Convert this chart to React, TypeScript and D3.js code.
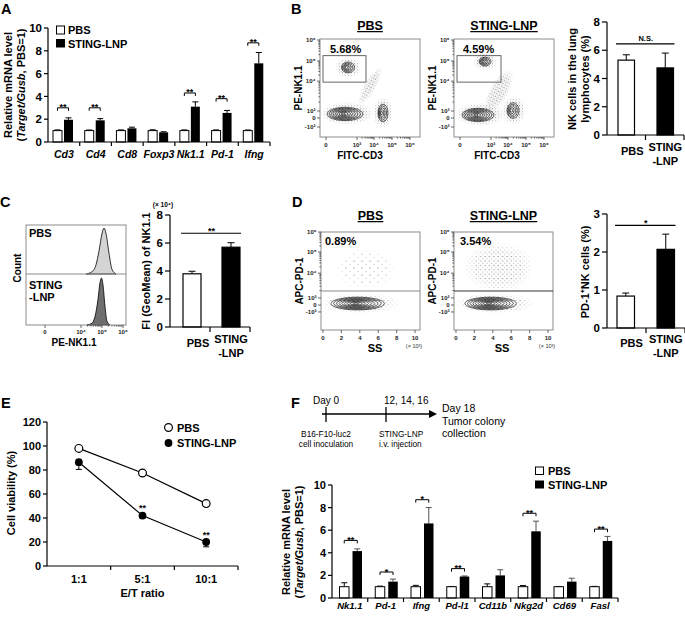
import React from "react";
import * as d3 from "d3";

const FONT = '"Liberation Sans", Arial, Helvetica, sans-serif';

// ---------- Panel A ----------
const genesA = ["Cd3", "Cd4", "Cd8", "Foxp3", "Nk1.1", "Pd-1", "Ifng"];
const pbsA = [1, 1, 1, 1, 1, 1, 1];
const pbsAErr = [0.06, 0.05, 0.06, 0.07, 0.06, 0.06, 0.05];
const stingA = [1.95, 1.9, 1.2, 0.85, 3.1, 2.55, 6.9];
const stingAErr = [0.17, 0.15, 0.1, 0.05, 0.42, 0.22, 0.95];
const sigAIdx = [0, 1, 4, 5, 6];
const sigAY = [3.0, 3.0, 4.3, 3.8, 8.7];
const sigAText = ["**", "**", "**", "**", "**"];
const ticksA = [0, 2, 4, 6, 8, 10];

// ---------- Panels B, C, D bar charts ----------
const groups = ["PBS", "STING-LNP"];
const nkPct = [5.3, 4.75];
const nkPctErr = [0.38, 1.05];
const ticksB = [0, 2, 4, 6, 8];
const fiNk = [3.8, 5.7];
const fiNkErr = [0.18, 0.32];
const ticksC = [0, 2, 4, 6, 8];
const pd1Pct = [0.84, 2.07];
const pd1PctErr = [0.08, 0.4];
const ticksD = [0, 1, 2, 3];

// ---------- Flow plots ----------
const flowBX = [6, 37, 54, 72, 90];
const flowBXLab = ["0", "10³", "10⁴", "10⁵", "10⁶"];
const flowBY = [10.2, 19.4, 26.5, 57, 77.6, 99];
const flowBYLab = ["-10³", "0", "10³", "10⁴", "10⁵", "10⁶"];
const flowDY = [18.4, 25.5, 32.7, 58, 79.6, 100];
const flowDYLab = ["-10³", "0", "10³", "10⁴", "10⁵", "10⁶"];
const flowDXVal = [0, 2, 4, 6, 8, 10];
const pctB = ["5.68%", "4.59%"];
const pctD = ["0.89%", "3.54%"];
const contoursBPbs = [
  { cx: 25, cy: 23.5, rx: 18, ry: 6.8, n: 8, rot: 0 },
  { cx: 63, cy: 24.5, rx: 5, ry: 9, n: 5, rot: 0 },
  { cx: 28, cy: 71, rx: 6.5, ry: 5.5, n: 5, rot: 0 },
];
const cloudsBPbs = [
  { cx: 28, cy: 71, rx: 13, ry: 11, rot: 0, d: "m" },
  { cx: 27, cy: 24, rx: 27, ry: 12, rot: 0, d: "m" },
  { cx: 50, cy: 52, rx: 22, ry: 6, rot: -60, d: "m" },
  { cx: 63, cy: 25, rx: 10, ry: 16, rot: 0, d: "m" },
];
const contoursBSting = [
  { cx: 24, cy: 22.5, rx: 16, ry: 6.8, n: 8, rot: 0 },
  { cx: 59, cy: 27, rx: 6, ry: 8, n: 5, rot: 0 },
  { cx: 31, cy: 77, rx: 6, ry: 4.5, n: 5, rot: 0 },
];
const cloudsBSting = [
  { cx: 31, cy: 77, rx: 12, ry: 9, rot: 0, d: "m" },
  { cx: 26, cy: 23, rx: 25, ry: 12, rot: 0, d: "m" },
  { cx: 45, cy: 47, rx: 24, ry: 10, rot: -60, d: "m" },
  { cx: 60, cy: 27, rx: 12, ry: 15, rot: 0, d: "m" },
];
const contoursDPbs = [{ cx: 37, cy: 27, rx: 27, ry: 6.5, n: 9, rot: 0 }];
const cloudsDPbs = [
  { cx: 40, cy: 27, rx: 40, ry: 11, rot: 0, d: "s" },
  { cx: 45, cy: 62, rx: 32, ry: 22, rot: 0, d: "x" },
];
const contoursDSting = [{ cx: 37, cy: 27, rx: 26, ry: 6.5, n: 9, rot: 0 }];
const cloudsDSting = [
  { cx: 42, cy: 27, rx: 40, ry: 11, rot: 0, d: "s" },
  { cx: 45, cy: 64, rx: 36, ry: 26, rot: 0, d: "s" },
];

// ---------- Panel C histogram ----------
const histCX = [19, 55, 76, 97];
const histCXLab = ["0", "10⁴", "10⁵", "10⁶"];
const histPbsX = [60, 66, 70, 73, 76, 78, 80, 83, 86, 90];
const histPbsY = [0, 0.05, 0.2, 0.5, 0.88, 1, 0.88, 0.45, 0.1, 0];
const histStingX = [61, 66, 69, 72, 74, 75.5, 77, 79, 81, 84];
const histStingY = [0, 0.04, 0.18, 0.55, 0.9, 1, 0.85, 0.4, 0.08, 0];

// ---------- Panel E ----------
const ratios = ["1:1", "5:1", "10:1"];
const viabPbs = [98, 77.5, 52];
const viabPbsErr = [1, 1.5, 2];
const viabSting = [86.5, 42, 20];
const viabStingErr = [6, 2, 4];
const sigE = ["", "**", "**"];
const ticksE = [0, 20, 40, 60, 80, 100, 120];

// ---------- Panel F ----------
const genesF = ["Nk1.1", "Pd-1", "Ifng", "Pd-l1", "Cd11b", "Nkg2d", "Cd69", "Fasl"];
const pbsF = [1, 1, 1, 1, 1, 1, 1, 1];
const pbsFErr = [0.35, 0.05, 0.12, 0.02, 0.25, 0.1, 0.02, 0.03];
const stingF = [4.15, 1.45, 6.6, 1.9, 2.0, 5.9, 1.45, 5.05];
const stingFErr = [0.2, 0.22, 1.4, 0.05, 0.5, 0.9, 0.3, 0.4];
const sigFIdx = [0, 1, 2, 3, 5, 7];
const sigFY = [5.1, 2.3, 8.7, 2.6, 7.5, 6.1];
const sigFText = ["**", "*", "*", "**", "**", "**"];
const ticksF = [0, 2, 4, 6, 8, 10];
const tlDays = [0, 12, 18];

function Err({ x, y0, y1, cw = 3, stroke = "#000" }: any) {
  return (
    <g stroke={stroke} strokeWidth={1}>
      <line x1={x} x2={x} y1={y0} y2={y1} />
      <line x1={x - cw} x2={x + cw} y1={y1} y2={y1} />
    </g>
  );
}

function YAxis({ x, y, ticks, size = 11, len = 4 }: any) {
  const [r0, r1] = y.range();
  return (
    <g>
      <line x1={x} x2={x} y1={r0} y2={r1} stroke="#000" strokeWidth={1.2} />
      {ticks.map((t: number) => (
        <g key={t}>
          <line x1={x - len} x2={x} y1={y(t)} y2={y(t)} stroke="#000" strokeWidth={1.2} />
          <text x={x - len - 2} y={y(t)} dy="0.36em" textAnchor="end" fontSize={size} fontWeight="bold">
            {t}
          </text>
        </g>
      ))}
    </g>
  );
}

function XAxisBand({ x, y0, len = 4 }: any) {
  const [a, b] = x.range();
  const bw = x.bandwidth();
  return (
    <g stroke="#000" strokeWidth={1.2}>
      <line x1={a} x2={b} y1={y0} y2={y0} />
      {x.domain().map((c: string) => (
        <line key={c} x1={x(c) + bw} x2={x(c) + bw} y1={y0} y2={y0 + len} />
      ))}
    </g>
  );
}

function GroupedBars(p: any) {
  const x = d3.scaleBand().domain(p.cats).range([p.x0, p.x1]);
  const y = d3.scaleLinear().domain([0, p.yMax]).range([p.yBase, p.yTop]);
  const bw = x.bandwidth();
  return (
    <g>
      {p.cats.map((c: string, i: number) => {
        const xs = x(c) as number;
        const xa = xs + p.wOff;
        const xb = xs + p.bOff;
        return (
          <g key={c}>
            <Err x={xa + p.bw / 2} y0={y(p.a[i])} y1={y(p.a[i] + p.aErr[i])} cw={3} />
            <rect x={xa} y={y(p.a[i])} width={p.bw} height={p.yBase - y(p.a[i])} fill="#fff" stroke="#000" strokeWidth={1} />
            <Err x={xb + p.bw / 2} y0={y(p.b[i])} y1={y(p.b[i] + p.bErr[i])} cw={3} stroke={p.errB || "#000"} />
            <rect x={xb} y={y(p.b[i])} width={p.bw} height={p.yBase - y(p.b[i])} fill="#000" />
            <text x={xs + bw / 2} y={p.labelY} textAnchor="middle" fontSize={p.labelSize} fontWeight="bold" fontStyle="italic">
              {c}
            </text>
          </g>
        );
      })}
      {p.sigIdx.map((gi: number, k: number) => {
        const xs = x(p.cats[gi]) as number;
        const xa = xs + p.wOff + p.bw / 2;
        const xb = xs + p.bOff + p.bw / 2;
        const py = y(p.sigY[k]);
        return (
          <g key={"s" + k}>
            <path d={`M${xa},${py + 3}V${py}H${xb}V${py + 3}`} fill="none" stroke="#000" strokeWidth={1} />
            <text x={(xa + xb) / 2} y={py + 2.5} textAnchor="middle" fontSize={9} fontWeight="bold">
              {p.sigText[k]}
            </text>
          </g>
        );
      })}
      <XAxisBand x={x} y0={p.yBase} />
      <YAxis x={p.x0} y={y} ticks={p.ticks} size={p.tickSize} />
    </g>
  );
}

function PairBars(p: any) {
  const x = d3.scaleBand().domain(groups).range([p.x0, p.x1]);
  const y = d3.scaleLinear().domain([0, p.yMax]).range([p.yBase, p.yTop]);
  const bw = x.bandwidth();
  const xs = groups.map((g, i) => (x(g) as number) + p.off[i]);
  const sy = y(p.sigY);
  return (
    <g>
      {groups.map((g, i) => (
        <g key={g}>
          <Err x={xs[i] + p.bw / 2} y0={y(p.vals[i])} y1={y(p.vals[i] + p.errs[i])} cw={3.5} />
          <rect
            x={xs[i]}
            y={y(p.vals[i])}
            width={p.bw}
            height={p.yBase - y(p.vals[i])}
            fill={i === 0 ? "#fff" : "#000"}
            stroke="#000"
            strokeWidth={1.2}
          />
        </g>
      ))}
      <line x1={xs[0] - 2} x2={xs[1] + p.bw + 1} y1={sy} y2={sy} stroke="#000" strokeWidth={1.1} />
      <text x={(xs[0] + xs[1] + p.bw) / 2} y={sy + p.sigDy} textAnchor="middle" fontSize={p.sigSize} fontWeight="bold">
        {p.sigText}
      </text>
      <XAxisBand x={x} y0={p.yBase} len={5} />
      <YAxis x={p.x0} y={y} ticks={p.ticks} size={11.5} len={5} />
      <text x={(x(groups[0]) as number) + bw / 2 + p.off[0] - 5} y={p.ly[0]} textAnchor="middle" fontSize={11} fontWeight="bold">
        PBS
      </text>
      <text x={(x(groups[1]) as number) + p.off[1] + p.bw / 2} y={p.ly[1]} textAnchor="middle" fontSize={11} fontWeight="bold">
        {groups[1].split("-")[0]}
      </text>
      <text x={(x(groups[1]) as number) + p.off[1] + p.bw / 2} y={p.ly[2]} textAnchor="middle" fontSize={11} fontWeight="bold">
        {"-" + groups[1].split("-")[1]}
      </text>
    </g>
  );
}

function minorTicks(pos: number[], lab: string[]) {
  const out: number[] = [];
  for (let i = 0; i < pos.length - 1; i++) {
    if (lab[i].startsWith("10") && lab[i + 1].startsWith("10")) {
      for (let k = 2; k <= 9; k++) out.push(pos[i] + (pos[i + 1] - pos[i]) * Math.log10(k));
    }
  }
  return out;
}

function FlowPlot(p: any) {
  const sx = d3.scaleLinear().domain([0, 100]).range([p.x, p.x + p.w]);
  const sy = d3.scaleLinear().domain([0, 100]).range([p.y + p.h, p.y]);
  const kx = p.w / 100;
  const ky = p.h / 100;
  const minX = minorTicks(p.xt, p.xl);
  const minY = minorTicks(p.yt, p.yl);
  const yb = p.y + p.h;
  return (
    <g>
      <g clipPath={`url(#${p.clip})`}>
        {p.clouds.map((c: any, i: number) => (
          <ellipse
            key={"cl" + i}
            cx={sx(c.cx)}
            cy={sy(c.cy)}
            rx={c.rx * kx}
            ry={c.ry * ky}
            transform={`rotate(${c.rot} ${sx(c.cx)} ${sy(c.cy)})`}
            fill={`url(#dots-${c.d})`}
            mask="url(#fade)"
          />
        ))}
        {p.contours.map((c: any, i: number) =>
          d3.range(1, c.n + 1).map((k) => (
            <ellipse
              key={`ct${i}-${k}`}
              cx={sx(c.cx) - (1 - k / c.n) * 2}
              cy={sy(c.cy)}
              rx={(c.rx * kx * k) / c.n}
              ry={(c.ry * ky * k) / c.n}
              fill="none"
              stroke="#111"
              strokeWidth={0.65}
            />
          ))
        )}
      </g>
      <rect x={p.x} y={p.y} width={p.w} height={p.h} fill="none" stroke="#8c8c8c" strokeWidth={1} />
      {p.gate && (
        <rect
          x={sx(p.gate[0])}
          y={sy(p.gate[3])}
          width={sx(p.gate[1]) - sx(p.gate[0])}
          height={sy(p.gate[2]) - sy(p.gate[3])}
          fill="none"
          stroke="#555"
          strokeWidth={0.9}
        />
      )}
      {p.gateLine !== undefined && (
        <line x1={p.x} x2={p.x + p.w} y1={sy(p.gateLine)} y2={sy(p.gateLine)} stroke={p.gateColor} strokeWidth={1} />
      )}
      <text x={p.x + p.pctDx} y={p.y + p.pctDy} fontSize={11} fontWeight="bold">
        {p.pct}
      </text>
      <g stroke="#444" strokeWidth={0.8}>
        {p.xt.map((t: number, i: number) => (
          <line key={"xt" + i} x1={sx(t)} x2={sx(t)} y1={yb} y2={yb + 3} />
        ))}
        {minX.map((t: number, i: number) => (
          <line key={"xm" + i} x1={sx(t)} x2={sx(t)} y1={yb} y2={yb + 1.6} />
        ))}
        {p.yt.map((t: number, i: number) => (
          <line key={"yt" + i} x1={p.x - 3} x2={p.x} y1={sy(t)} y2={sy(t)} />
        ))}
        {minY.map((t: number, i: number) => (
          <line key={"ym" + i} x1={p.x - 1.6} x2={p.x} y1={sy(t)} y2={sy(t)} />
        ))}
      </g>
      {p.xt.map((t: number, i: number) => (
        <text key={"xl" + i} x={sx(t)} y={yb + 10} textAnchor="middle" fontSize={6} fill="#222" fontWeight="bold">
          {p.xl[i]}
        </text>
      ))}
      {p.yt.map((t: number, i: number) => (
        <text key={"yl" + i} x={p.x - 4.5} y={sy(t)} dy="0.35em" textAnchor="end" fontSize={6} fill="#222" fontWeight="bold">
          {p.yl[i]}
        </text>
      ))}
      <text
        x={p.x + p.w / 2}
        y={p.titleY}
        textAnchor="middle"
        fontSize={12.5}
        fontWeight="bold"
        style={{ textDecoration: "underline" }}
      >
        {p.title}
      </text>
      <text x={p.x + p.xLabelDx} y={p.xLabelY} textAnchor="middle" fontSize={p.xLabelSize} fontWeight="bold">
        {p.xLabel}
      </text>
      <text transform={`translate(${p.x - p.yLabelDx},${p.y + p.h / 2}) rotate(-90)`} textAnchor="middle" fontSize={10} fontWeight="bold">
        {p.yLabel}
      </text>
      {p.unit && (
        <text x={p.x + p.w - 6} y={yb + 18} textAnchor="middle" fontSize={5.5} fill="#333">
          (× 10³)
        </text>
      )}
    </g>
  );
}

function PanelA() {
  return (
    <g>
      <text x={1} y={14} fontSize={14.5} fontWeight="bold">A</text>
      <GroupedBars
        cats={genesA}
        a={pbsA}
        aErr={pbsAErr}
        b={stingA}
        bErr={stingAErr}
        sigIdx={sigAIdx}
        sigY={sigAY}
        sigText={sigAText}
        ticks={ticksA}
        x0={48}
        x1={270}
        yBase={142}
        yTop={28}
        yMax={10}
        wOff={5}
        bOff={16}
        bw={9}
        labelY={158}
        labelSize={10.5}
        tickSize={11.5}
      />
      <rect x={56.5} y={26} width={8} height={8} fill="#fff" stroke="#000" strokeWidth={1} />
      <text x={68} y={34} fontSize={11} fontWeight="bold">PBS</text>
      <rect x={56} y={39} width={9} height={8.5} fill="#000" />
      <text x={68} y={47.5} fontSize={11} fontWeight="bold">STING-LNP</text>
      <text transform="translate(12,85) rotate(-90)" textAnchor="middle" fontSize={11} fontWeight="bold">
        Relative mRNA level
      </text>
      <text transform="translate(24.5,85) rotate(-90)" textAnchor="middle" fontSize={11} fontWeight="bold">
        (<tspan fontStyle="italic">Target/Gusb</tspan>, PBS=1)
      </text>
    </g>
  );
}

function PanelB() {
  return (
    <g>
      <text x={291} y={14} fontSize={14.5} fontWeight="bold">B</text>
      <FlowPlot
        clip="clipB1"
        x={320}
        y={39}
        w={100}
        h={98}
        xt={flowBX}
        xl={flowBXLab}
        yt={flowBY}
        yl={flowBYLab}
        contours={contoursBPbs}
        clouds={cloudsBPbs}
        gate={[3, 46, 56, 83]}
        pct={pctB[0]}
        pctDx={10}
        pctDy={14}
        title="PBS"
        titleY={30}
        xLabel="FITC-CD3"
        xLabelDx={40}
        xLabelY={159}
        xLabelSize={10}
        yLabel="PE-NK1.1"
        yLabelDx={18}
      />
      <FlowPlot
        clip="clipB2"
        x={454}
        y={39}
        w={100}
        h={98}
        xt={flowBX}
        xl={flowBXLab}
        yt={flowBY}
        yl={flowBYLab}
        contours={contoursBSting}
        clouds={cloudsBSting}
        gate={[3, 47, 56, 83]}
        pct={pctB[1]}
        pctDx={9}
        pctDy={14}
        title="STING-LNP"
        titleY={30}
        xLabel="FITC-CD3"
        xLabelDx={43}
        xLabelY={159}
        xLabelSize={10}
        yLabel="PE-NK1.1"
        yLabelDx={18}
      />
      <PairBars
        x0={607}
        x1={684}
        yBase={135}
        yTop={22}
        yMax={8}
        vals={nkPct}
        errs={nkPctErr}
        ticks={ticksB}
        off={[11, 11.5]}
        bw={16.5}
        sigY={6.45}
        sigText="N.S."
        sigSize={7.5}
        sigDy={-2.5}
        ly={[155, 151, 165]}
      />
      <text transform="translate(576,79) rotate(-90)" textAnchor="middle" fontSize={11} fontWeight="bold">
        NK cells in the lung
      </text>
      <text transform="translate(589,79) rotate(-90)" textAnchor="middle" fontSize={11} fontWeight="bold">
        lymphocytes (%)
      </text>
    </g>
  );
}

function PanelC() {
  const sx = d3.scaleLinear().domain([0, 100]).range([26, 126]);
  const top0 = 225, mid = 274, bot = 325;
  const yTop = d3.scaleLinear().domain([0, 1]).range([mid, mid - 46]);
  const yBot = d3.scaleLinear().domain([0, 1]).range([bot, bot - 47]);
  const areaTop = d3
    .area<number>()
    .x((_, i) => sx(histPbsX[i]))
    .y0(mid)
    .y1((d) => yTop(d))
    .curve(d3.curveMonotoneX);
  const areaBot = d3
    .area<number>()
    .x((_, i) => sx(histStingX[i]))
    .y0(bot)
    .y1((d) => yBot(d))
    .curve(d3.curveMonotoneX);
  const minX = minorTicks(histCX, histCXLab);
  return (
    <g>
      <text x={0} y={207} fontSize={14.5} fontWeight="bold">C</text>
      <path d={areaTop(histPbsY) || ""} fill="#d4d4d4" stroke="#000" strokeWidth={0.8} />
      <path d={areaBot(histStingY) || ""} fill="#6e6e6e" stroke="#000" strokeWidth={0.8} />
      <rect x={26} y={top0} width={100} height={bot - top0} fill="none" stroke="#8c8c8c" strokeWidth={1} />
      <line x1={26} x2={126} y1={mid} y2={mid} stroke="#8c8c8c" strokeWidth={1} />
      <text x={29} y={237} fontSize={11} fontWeight="bold">PBS</text>
      <text x={29} y={289} fontSize={11} fontWeight="bold">STING</text>
      <text x={29} y={301} fontSize={11} fontWeight="bold">-LNP</text>
      <g stroke="#444" strokeWidth={0.8}>
        {histCX.map((t, i) => (
          <line key={"t" + i} x1={sx(t)} x2={sx(t)} y1={bot} y2={bot + 3} />
        ))}
        {minX.map((t, i) => (
          <line key={"m" + i} x1={sx(t)} x2={sx(t)} y1={bot} y2={bot + 1.6} />
        ))}
      </g>
      {histCX.map((t, i) => (
        <text key={"l" + i} x={sx(t)} y={334} textAnchor="middle" fontSize={6} fill="#222" fontWeight="bold">
          {histCXLab[i]}
        </text>
      ))}
      <text x={74} y={346} textAnchor="middle" fontSize={10} fontWeight="bold">PE-NK1.1</text>
      <text transform="translate(21,268) rotate(-90)" textAnchor="middle" fontSize={10} fontWeight="bold">Count</text>
      <PairBars
        x0={170}
        x1={250}
        yBase={327}
        yTop={215}
        yMax={8}
        vals={fiNk}
        errs={fiNkErr}
        ticks={ticksC}
        off={[13, 12]}
        bw={18}
        sigY={6.7}
        sigText="**"
        sigSize={9}
        sigDy={1}
        ly={[347, 343, 357]}
      />
      <text x={163} y={207} textAnchor="middle" fontSize={6.5} fontWeight="bold">(× 10⁴)</text>
      <text transform="translate(150,271) rotate(-90)" textAnchor="middle" fontSize={11} fontWeight="bold">
        FI (GeoMean) of NK1.1
      </text>
    </g>
  );
}

function PanelD() {
  const cx = d3.scaleLinear().domain([0, 10]).range([2, 95]);
  const xt = flowDXVal.map((v) => cx(v));
  const xl = flowDXVal.map(String);
  return (
    <g>
      <text x={292} y={207} fontSize={14.5} fontWeight="bold">D</text>
      <FlowPlot
        clip="clipD1"
        x={321}
        y={232}
        w={99}
        h={98}
        xt={xt}
        xl={xl}
        yt={flowDY}
        yl={flowDYLab}
        contours={contoursDPbs}
        clouds={cloudsDPbs}
        gateLine={39.8}
        gateColor="#8a8a8a"
        pct={pctD[0]}
        pctDx={4}
        pctDy={13}
        title="PBS"
        titleY={220}
        xLabel="SS"
        xLabelDx={54}
        xLabelY={352}
        xLabelSize={11}
        yLabel="APC-PD-1"
        yLabelDx={18}
        unit
      />
      <FlowPlot
        clip="clipD2"
        x={454}
        y={232}
        w={99}
        h={98}
        xt={xt}
        xl={xl}
        yt={flowDY}
        yl={flowDYLab}
        contours={contoursDSting}
        clouds={cloudsDSting}
        gateLine={39.8}
        gateColor="#333"
        pct={pctD[1]}
        pctDx={6}
        pctDy={13}
        title="STING-LNP"
        titleY={220}
        xLabel="SS"
        xLabelDx={48}
        xLabelY={352}
        xLabelSize={11}
        yLabel="APC-PD-1"
        yLabelDx={18}
        unit
      />
      <PairBars
        x0={607}
        x1={685}
        yBase={328}
        yTop={214}
        yMax={3}
        vals={pd1Pct}
        errs={pd1PctErr}
        ticks={ticksD}
        off={[10, 11]}
        bw={17.5}
        sigY={2.7}
        sigText="*"
        sigSize={9}
        sigDy={1}
        ly={[347, 343, 357]}
      />
      <text transform="translate(589,272) rotate(-90)" textAnchor="middle" fontSize={11} fontWeight="bold">
        PD-1⁺NK cells (%)
      </text>
    </g>
  );
}

function PanelE() {
  const xb = d3.scaleBand().domain(ratios).range([47, 238]);
  const bw = xb.bandwidth();
  const xc = (r: string) => (xb(r) as number) + bw / 2;
  const y = d3.scaleLinear().domain([0, 120]).range([566, 422]);
  const line = d3
    .line<number>()
    .x((_, i) => xc(ratios[i]))
    .y((d) => y(d));
  const r = 3.9;
  return (
    <g>
      <text x={1} y={408} fontSize={14.5} fontWeight="bold">E</text>
      <path d={line(viabPbs) || ""} fill="none" stroke="#000" strokeWidth={1.2} />
      <path d={line(viabSting) || ""} fill="none" stroke="#000" strokeWidth={1.2} />
      {ratios.map((rt, i) => (
        <g key={rt}>
          <Err x={xc(rt)} y0={y(viabPbs[i])} y1={y(viabPbs[i] - viabPbsErr[i])} cw={3} />
          <Err x={xc(rt)} y0={y(viabSting[i])} y1={y(viabSting[i] - viabStingErr[i])} cw={3} />
          <circle cx={xc(rt)} cy={y(viabPbs[i])} r={r} fill="#fff" stroke="#000" strokeWidth={1.2} />
          <circle cx={xc(rt)} cy={y(viabSting[i])} r={r} fill="#000" />
          {sigE[i] && (
            <text x={xc(rt)} y={y(viabSting[i]) - r - 0.5} textAnchor="middle" fontSize={9} fontWeight="bold">
              {sigE[i]}
            </text>
          )}
          <text x={xc(rt)} y={583} textAnchor="middle" fontSize={11} fontWeight="bold">
            {rt}
          </text>
        </g>
      ))}
      <XAxisBand x={xb} y0={566} />
      <YAxis x={47} y={y} ticks={ticksE} size={11} />
      <text x={142.5} y={597} textAnchor="middle" fontSize={11} fontWeight="bold">E/T ratio</text>
      <text transform="translate(15,493) rotate(-90)" textAnchor="middle" fontSize={11} fontWeight="bold">
        Cell viability (%)
      </text>
      <circle cx={168.5} cy={427.5} r={3.9} fill="#fff" stroke="#000" strokeWidth={1.2} />
      <text x={177} y={431.5} fontSize={11} fontWeight="bold">PBS</text>
      <circle cx={168.5} cy={443} r={3.9} fill="#000" />
      <text x={177} y={447} fontSize={11} fontWeight="bold">STING-LNP</text>
    </g>
  );
}

function PanelF() {
  const t = d3.scaleLinear().domain([0, 12, 18]).range([326, 386, 437]);
  const ly = 414;
  return (
    <g>
      <text x={291} y={408} fontSize={14.5} fontWeight="bold">F</text>
      <line x1={322} x2={t(18) - 7} y1={ly} y2={ly} stroke="#000" strokeWidth={1.3} />
      <polygon points={`${t(18)},${ly} ${t(18) - 8},${ly - 4} ${t(18) - 8},${ly + 4}`} fill="#000" />
      {tlDays.slice(0, 2).map((d) => (
        <line key={d} x1={t(d)} x2={t(d)} y1={ly - 7} y2={ly + 8} stroke="#000" strokeWidth={1.3} />
      ))}
      <text x={t(0)} y={404} textAnchor="middle" fontSize={10}>Day 0</text>
      <text x={t(12) - 2} y={404} fontSize={10}>12, 14, 16</text>
      <text x={t(18) + 5} y={412} fontSize={10.5}>Day 18</text>
      <text x={t(18) + 5} y={425} fontSize={10.5}>Tumor colony</text>
      <text x={t(18) + 5} y={437} fontSize={10.5}>collection</text>
      <text x={t(0)} y={437} textAnchor="middle" fontSize={8.3}>B16-F10-luc2</text>
      <text x={t(0)} y={446.5} textAnchor="middle" fontSize={8.3}>cell inoculation</text>
      <text x={t(12) - 7} y={437} fontSize={8.3}>STING-LNP</text>
      <text x={t(12) - 7} y={446.5} fontSize={8.3}>i.v. injection</text>

      <GroupedBars
        cats={genesF}
        a={pbsF}
        aErr={pbsFErr}
        b={stingF}
        bErr={stingFErr}
        sigIdx={sigFIdx}
        sigY={sigFY}
        sigText={sigFText}
        ticks={ticksF}
        x0={332}
        x1={618}
        yBase={598}
        yTop={485}
        yMax={10}
        wOff={7.5}
        bOff={20.5}
        bw={9.5}
        labelY={609}
        labelSize={9.5}
        tickSize={11}
        errB="#555"
      />
      <rect x={535.5} y={467} width={8} height={7.5} fill="#fff" stroke="#000" strokeWidth={1} />
      <text x={548} y={474.5} fontSize={11} fontWeight="bold">PBS</text>
      <rect x={535} y={480.5} width={9} height={8} fill="#000" />
      <text x={548} y={488.5} fontSize={11} fontWeight="bold">STING-LNP</text>
      <text transform="translate(290,542) rotate(-90)" textAnchor="middle" fontSize={11} fontWeight="bold">
        Relative mRNA level
      </text>
      <text transform="translate(303,542) rotate(-90)" textAnchor="middle" fontSize={11} fontWeight="bold">
        (<tspan fontStyle="italic">Target/Gusb</tspan>, PBS=1)
      </text>
    </g>
  );
}

function Defs() {
  return (
    <defs>
      <pattern id="dots-m" width="3" height="3" patternUnits="userSpaceOnUse">
        <circle cx="0.7" cy="0.8" r="0.5" fill="#222" />
        <circle cx="2.2" cy="2.1" r="0.45" fill="#444" />
      </pattern>
      <pattern id="dots-s" width="4.4" height="4.4" patternUnits="userSpaceOnUse">
        <circle cx="1" cy="1.4" r="0.5" fill="#333" />
        <circle cx="3.3" cy="3.5" r="0.45" fill="#555" />
      </pattern>
      <pattern id="dots-x" width="8" height="7" patternUnits="userSpaceOnUse">
        <circle cx="2" cy="2" r="0.5" fill="#444" />
        <circle cx="6" cy="5.5" r="0.45" fill="#666" />
      </pattern>
      <radialGradient id="fadeGrad">
        <stop offset="0%" stopColor="#fff" />
        <stop offset="60%" stopColor="#fff" stopOpacity="0.85" />
        <stop offset="100%" stopColor="#fff" stopOpacity="0" />
      </radialGradient>
      <mask id="fade" maskContentUnits="objectBoundingBox">
        <rect x="0" y="0" width="1" height="1" fill="url(#fadeGrad)" />
      </mask>
      <clipPath id="clipB1"><rect x={320} y={39} width={100} height={98} /></clipPath>
      <clipPath id="clipB2"><rect x={454} y={39} width={100} height={98} /></clipPath>
      <clipPath id="clipD1"><rect x={321} y={232} width={99} height={98} /></clipPath>
      <clipPath id="clipD2"><rect x={454} y={232} width={99} height={98} /></clipPath>
    </defs>
  );
}

export default function App() {
  return (
    <svg
      width={685}
      height={617}
      viewBox="0 0 685 617"
      style={{ position: "absolute", left: 0, top: 0, background: "#fff" }}
      fontFamily={FONT}
    >
      <rect width={685} height={617} fill="#fff" />
      <Defs />
      <PanelA />
      <PanelB />
      <PanelC />
      <PanelD />
      <PanelE />
      <PanelF />
    </svg>
  );
}
